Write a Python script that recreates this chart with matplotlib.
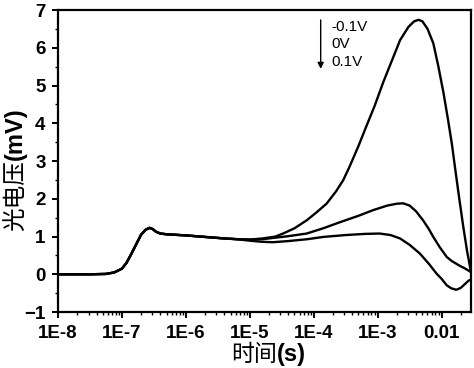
import numpy as np
import matplotlib
matplotlib.use('Agg')
import matplotlib.pyplot as plt
from matplotlib.ticker import LogLocator, NullFormatter

# log10(time / s) and photovoltage (mV)
common_logt = [-8.0, -7.5, -7.25, -7.12, -7.0, -6.93, -6.85, -6.77, -6.7, -6.63,
               -6.57, -6.52, -6.47, -6.4, -6.3, -6.0, -5.7, -5.4, -5.2]
common_mv = [0.0, 0.0, 0.01, 0.05, 0.15, 0.3, 0.55, 0.82, 1.05, 1.18,
             1.23, 1.2, 1.13, 1.08, 1.06, 1.03, 0.99, 0.95, 0.93]

neg_logt = [-5.0, -4.8, -4.6, -4.48, -4.3, -4.11, -3.95, -3.8, -3.65, -3.54, -3.44,
            -3.3, -3.17, -3.05, -2.91, -2.78, -2.65, -2.52, -2.43, -2.36, -2.3,
            -2.22, -2.13, -2.05, -1.97, -1.9, -1.84, -1.78, -1.72, -1.66, -1.6, -1.54]
neg_mv = [0.92, 0.95, 1.0, 1.08, 1.22, 1.43, 1.65, 1.87, 2.2, 2.49, 2.85,
          3.4, 3.95, 4.45, 5.1, 5.65, 6.2, 6.55, 6.7, 6.74, 6.7,
          6.5, 6.12, 5.5, 4.8, 4.1, 3.46, 2.7, 1.96, 1.25, 0.6, 0.06]

zero_logt = [-5.0, -4.8, -4.6, -4.4, -4.11, -3.85, -3.59, -3.3, -3.07, -2.85,
             -2.7, -2.6, -2.5, -2.4, -2.29, -2.2, -2.13, -2.03, -1.92, -1.84,
             -1.77, -1.71, -1.64, -1.58, -1.54]
zero_mv = [0.92, 0.93, 0.97, 1.01, 1.08, 1.22, 1.38, 1.55, 1.7, 1.82,
           1.87, 1.88, 1.82, 1.67, 1.43, 1.2, 0.99, 0.72, 0.46, 0.35,
           0.28, 0.22, 0.16, 0.1, 0.06]

pos_logt = [-5.0, -4.8, -4.64, -4.4, -4.1, -3.85, -3.5, -3.2, -2.97, -2.8,
            -2.65, -2.5, -2.34, -2.2, -2.08, -2.0, -1.92, -1.85, -1.77, -1.7,
            -1.63, -1.58, -1.54]
pos_mv = [0.89, 0.86, 0.85, 0.88, 0.93, 0.99, 1.04, 1.07, 1.08, 1.04,
          0.95, 0.78, 0.55, 0.28, 0.02, -0.12, -0.29, -0.37, -0.41, -0.36,
          -0.25, -0.17, -0.14]

curves = [(neg_logt, neg_mv), (zero_logt, zero_mv), (pos_logt, pos_mv)]
bias_labels = ['-0.1V', '0V', '0.1V']

major_ticks = [1e-8, 1e-7, 1e-6, 1e-5, 1e-4, 1e-3, 1e-2]
major_labels = ['1E-8', '1E-7', '1E-6', '1E-5', '1E-4', '1E-3', '0.01']
yticks = [-1, 0, 1, 2, 3, 4, 5, 6, 7]

latin = 'Liberation Sans'
cjk = 'Noto Sans CJK SC'

fig = plt.figure(figsize=(4.74, 3.68), dpi=100)
ax = fig.add_axes([0.1224, 0.152, 0.8713, 0.8208])

for logt, mv in curves:
    t = 10 ** np.array(common_logt + logt)
    ax.plot(t, common_mv + mv, color='black', lw=1.7)

ax.set_xscale('log')
ax.set_xlim(1e-8, 10 ** -1.54)
ax.set_ylim(-1, 7)
ax.set_xticks(major_ticks, major_labels)
ax.xaxis.set_minor_locator(LogLocator(base=10, subs=np.arange(2, 10)))
ax.xaxis.set_minor_formatter(NullFormatter())
ax.set_yticks(yticks)
ax.set_yticks(np.arange(-0.5, 7, 1.0), minor=True)

for sp in ax.spines.values():
    sp.set_linewidth(1.6)
ax.tick_params(which='major', direction='out', length=4, width=1.4, pad=5)
ax.tick_params(which='minor', direction='out', length=2.5, width=1.0)
for lab in ax.get_xticklabels() + ax.get_yticklabels():
    lab.set_fontfamily(latin)
    lab.set_fontweight('bold')
    lab.set_fontsize(13.5)

# bias direction arrow and labels
ax.annotate('', xy=(0.636, 0.805), xytext=(0.636, 0.967), xycoords='axes fraction',
            arrowprops=dict(arrowstyle='-|>', color='black', lw=1.0,
                            mutation_scale=9, shrinkA=0, shrinkB=0))
for i, lab in enumerate(bias_labels):
    ax.text(0.662, 0.945 - i * 0.058, lab, transform=ax.transAxes,
            ha='left', va='center', fontsize=11, family=latin)

# axis titles: Chinese normal weight, units bold
fig.text(0.584, 0.02, '时间', ha='right', va='baseline', fontsize=16.5, family=cjk)
fig.text(0.584, 0.02, '(s)', ha='left', va='baseline', fontsize=17,
         family=latin, fontweight='bold')
fig.text(0.032, 0.565, '光电压', rotation=90, ha='center', va='top',
         fontsize=17, family=cjk)
fig.text(0.032, 0.565, '(mV)', rotation=90, ha='center', va='bottom',
         fontsize=17, family=latin, fontweight='bold')

fig.savefig('out.png', dpi=100)
